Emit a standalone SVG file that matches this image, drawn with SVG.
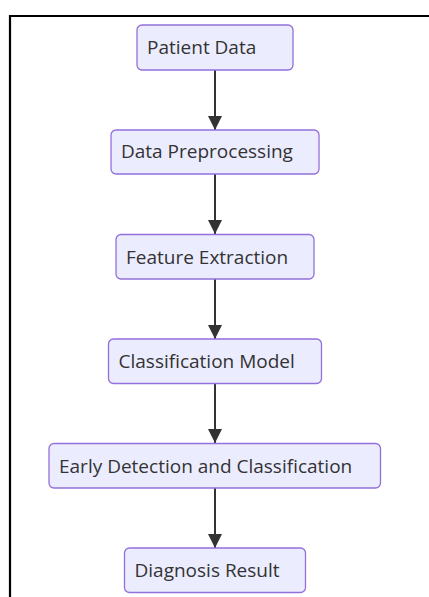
<svg xmlns="http://www.w3.org/2000/svg" width="429" height="597" viewBox="0 0 429 597">
  <style>
    .node rect { fill: #ececff; stroke: #9370db; stroke-width: 1.3; }
    .node text { font-family: "Open Sans", "Noto Sans", sans-serif; font-size: 19px; fill: #333333; }
    .edge { stroke: #333333; stroke-width: 2; fill: none; }
    .frame { stroke: #000000; stroke-width: 2.2; fill: none; }
  </style>
  <defs>
    <marker id="arrow" viewBox="0 0 10 10" refX="10" refY="5" markerWidth="7.2" markerHeight="7.2" markerUnits="strokeWidth" orient="auto">
      <path d="M0,0 L10,5 L0,10 Z" fill="#333333"/>
    </marker>
  </defs>

  <!-- page frame -->
  <path class="frame" d="M10,597 L10,16 L429,16"/>

  <!-- connectors -->
  <g id="edges">
    <line class="edge" x1="215" y1="70" x2="215" y2="130" marker-end="url(#arrow)"/>
    <line class="edge" x1="215" y1="174" x2="215" y2="234" marker-end="url(#arrow)"/>
    <line class="edge" x1="215" y1="279" x2="215" y2="339" marker-end="url(#arrow)"/>
    <line class="edge" x1="215" y1="383" x2="215" y2="443" marker-end="url(#arrow)"/>
    <line class="edge" x1="215" y1="488" x2="215" y2="548" marker-end="url(#arrow)"/>
  </g>

  <g id="patient-data" class="node">
    <rect x="137" y="25" width="156" height="45" rx="5"/>
    <text x="147" y="54">Patient Data</text>
  </g>
  <g id="data-preprocessing" class="node">
    <rect x="111" y="130" width="208" height="44" rx="5"/>
    <text x="121" y="158">Data Preprocessing</text>
  </g>
  <g id="feature-extraction" class="node">
    <rect x="116" y="234.5" width="198" height="44.5" rx="5"/>
    <text x="126" y="264">Feature Extraction</text>
  </g>
  <g id="classification-model" class="node">
    <rect x="108.5" y="339" width="213" height="44.5" rx="5"/>
    <text x="118.5" y="368">Classification Model</text>
  </g>
  <g id="early-detection" class="node">
    <rect x="49" y="443.5" width="331.5" height="44.5" rx="5"/>
    <text x="59" y="473">Early Detection and Classification</text>
  </g>
  <g id="diagnosis-result" class="node">
    <rect x="124.5" y="548" width="181" height="44.5" rx="5"/>
    <text x="134.5" y="577">Diagnosis Result</text>
  </g>
</svg>
